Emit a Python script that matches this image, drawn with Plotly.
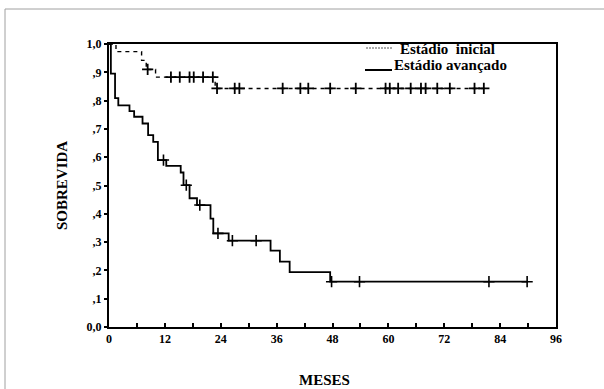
import plotly.graph_objects as go

# ---- data ----
ini_times = [0, 1.5, 7.0, 8.0, 10.0, 22.8]
ini_surv = [1.0, 0.973, 0.942, 0.910, 0.883, 0.843]
ini_end = 81.0
ini_censored = [8.3, 13.3, 15.2, 17.3, 18.2, 20.2, 22.3, 23.2, 27.0, 28.0,
                37.3, 41.1, 42.8, 47.5, 53.0, 59.4, 60.3, 62.1, 64.8, 67.0,
                68.0, 70.5, 73.2, 78.5, 80.5]

adv_times = [0, 0.4, 1.3, 2.0, 4.4, 5.4, 7.2, 8.4, 9.5, 10.5, 12.3, 15.4,
             16.0, 17.3, 18.9, 21.8, 22.4, 25.7, 34.7, 36.7, 38.8, 47.5]
adv_surv = [1.0, 0.895, 0.809, 0.783, 0.763, 0.743, 0.719, 0.678, 0.654,
            0.590, 0.569, 0.546, 0.501, 0.455, 0.431, 0.383, 0.331, 0.305,
            0.270, 0.231, 0.194, 0.160]
adv_end = 90.0
adv_censored = [11.7, 16.6, 19.5, 23.4, 26.5, 31.6, 47.8, 53.8, 81.6, 89.8]

x_tickvals = list(range(0, 97, 6))
x_ticktext = [str(v) if v % 12 == 0 else "" for v in x_tickvals]
y_tickvals = [0.0, 0.1, 0.2, 0.3, 0.4, 0.5, 0.6, 0.7, 0.8, 0.9, 1.0]
y_ticktext = ["0,0", ",1", ",2", ",3", ",4", ",5", ",6", ",7", ",8", ",9", "1,0"]

legend_labels = ["Estádio  inicial", "Estádio avançado"]
x_title = "MESES"
y_title = "SOBREVIDA"


def surv_at(times, surv, t):
    s = surv[0]
    for ti, si in zip(times, surv):
        if ti <= t:
            s = si
    return s


FONT = "Liberation Serif"
fig = go.Figure()

# initial stage (dashed)
fig.add_trace(go.Scatter(
    x=ini_times + [ini_end], y=ini_surv + [ini_surv[-1]],
    mode="lines", line=dict(color="black", width=1.4, dash="4px,4px", shape="hv"),
    showlegend=False, hoverinfo="skip"))
fig.add_trace(go.Scatter(
    x=ini_censored, y=[surv_at(ini_times, ini_surv, t) for t in ini_censored],
    mode="markers", marker=dict(symbol="cross-thin", size=8,
                                line=dict(color="black", width=1.8)),
    showlegend=False))

# advanced stage (solid)
fig.add_trace(go.Scatter(
    x=adv_times + [adv_end], y=adv_surv + [adv_surv[-1]],
    mode="lines", line=dict(color="black", width=1.8, shape="hv"),
    showlegend=False, hoverinfo="skip"))
fig.add_trace(go.Scatter(
    x=adv_censored, y=[surv_at(adv_times, adv_surv, t) for t in adv_censored],
    mode="markers", marker=dict(symbol="cross-thin", size=8,
                                line=dict(color="black", width=1.6)),
    showlegend=False))

L, R, T, B = 109, 48, 44, 62
W, H = 604, 389
pw, ph = W - L - R, H - T - B


def px(x):
    return (x - L) / pw


def py(y):
    return (H - B - y) / ph


shapes = [
    # outer scan frame (left + top)
    dict(type="path", xref="paper", yref="paper",
         path=f"M {px(5)} {py(389)} L {px(5)} {py(9)} L {px(604)} {py(9)}",
         line=dict(color="#a0a0a0", width=1)),
    # legend samples
    dict(type="line", xref="paper", yref="paper",
         x0=px(366), x1=px(392), y0=py(48), y1=py(48),
         line=dict(color="#555555", width=1, dash="2px,1px")),
    dict(type="line", xref="paper", yref="paper",
         x0=px(365), x1=px(392), y0=py(70), y1=py(70),
         line=dict(color="black", width=2)),
]

annotations = [
    dict(text=legend_labels[0], xref="paper", yref="paper", x=px(398), y=py(49),
         xanchor="left", yanchor="middle", showarrow=False,
         font=dict(family=FONT, size=15, color="black", weight="bold")),
    dict(text=legend_labels[1], xref="paper", yref="paper", x=px(392), y=py(65),
         xanchor="left", yanchor="middle", showarrow=False,
         font=dict(family=FONT, size=15, color="black", weight="bold")),
    dict(text=x_title, xref="paper", yref="paper", x=px(324), y=py(380),
         xanchor="center", yanchor="middle", showarrow=False,
         font=dict(family=FONT, size=15, color="black", weight="bold")),
    dict(text=y_title, xref="paper", yref="paper", x=px(62), y=py(186),
         xanchor="center", yanchor="middle", showarrow=False, textangle=-90,
         font=dict(family=FONT, size=15, color="black", weight="bold")),
]

fig.update_layout(
    width=W, height=H,
    margin=dict(l=L, r=R, t=T, b=B),
    paper_bgcolor="white", plot_bgcolor="white",
    font=dict(family=FONT, color="black"),
    shapes=shapes, annotations=annotations,
    xaxis=dict(range=[0, 96], tickvals=x_tickvals, ticktext=x_ticktext,
               ticks="inside", ticklen=4, tickwidth=1.5, tickcolor="black",
               showgrid=False, zeroline=False, showline=True, linecolor="black",
               linewidth=2, mirror=True,
               tickfont=dict(family=FONT, size=12, color="black", weight="bold")),
    yaxis=dict(range=[0, 1.0], tickvals=y_tickvals, ticktext=y_ticktext,
               ticks="outside", ticklen=3, tickwidth=2, tickcolor="black",
               showgrid=False, zeroline=False, showline=True, linecolor="black",
               linewidth=2, mirror=True,
               tickfont=dict(family=FONT, size=12, color="black", weight="bold")),
)

fig.write_html("out.html", post_script="document.body.style.margin='0';",
               config={"displayModeBar": False})
